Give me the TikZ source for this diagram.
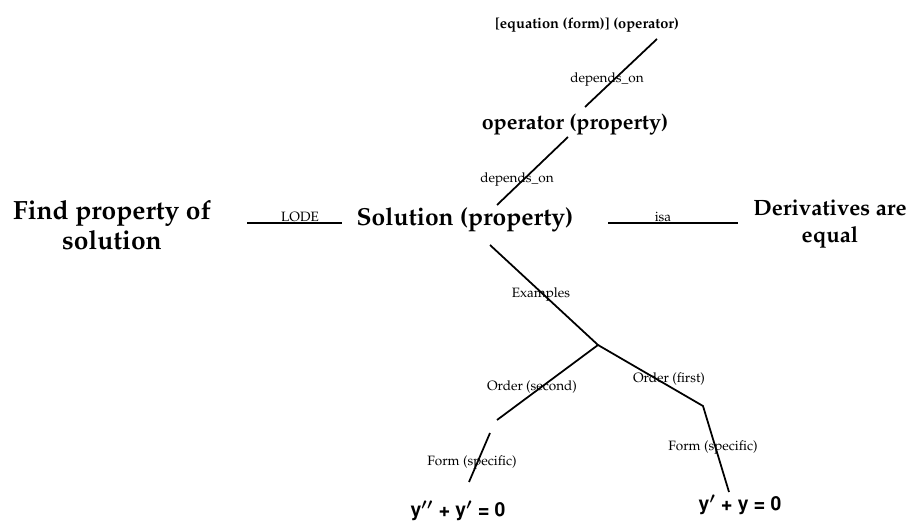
\documentclass[tikz,border=0pt]{standalone}
\usepackage[T1]{fontenc}
\usepackage{mathpazo}
\usepackage{helvet}
\usetikzlibrary{positioning}

\begin{document}
\begin{tikzpicture}[x=0.2mm,y=-0.2mm,
    concept/.style={font=\bfseries\fontsize{14}{16}\selectfont, align=center, inner sep=1pt},
    eqn/.style={font=\sffamily\bfseries\boldmath\fontsize{11}{13}\selectfont, inner sep=1pt},
    rel/.style={font=\fontsize{7.7}{9}\selectfont, inner sep=1pt},
    link/.style={line width=1pt}]
    \useasboundingbox (0,0) rectangle (910,525);
    % concepts
    \node[concept, font=\bfseries\fontsize{8.3}{10}\selectfont] (eqop) at (587,25) {[equation (form)] (operator)};
    \node[concept, font=\bfseries\fontsize{12.2}{14}\selectfont] (oper) at (575,125) {operator (property)};
    \node[concept] (sol) at (465,220) {Solution (property)};
    \node[concept, font=\bfseries\fontsize{15}{17}\selectfont] (find) at (112,225) {Find property of\\solution};
    \node[concept, font=\bfseries\fontsize{12.6}{15.3}\selectfont] (deriv) at (830,224) {Derivatives are\\equal};
    \node[eqn] (eqsec) at (458,511) {y$^{\prime\prime}$ + y$^{\prime}$ = 0};
    \node[eqn] (eqfirst) at (740,505) {y$^{\prime}$ + y = 0};
    % line ends
    \coordinate (a1) at (657,39);  \coordinate (a2) at (585,107);
    \coordinate (b1) at (568,137); \coordinate (b2) at (497,205);
    \coordinate (c1) at (247,223); \coordinate (c2) at (342,223);
    \coordinate (d1) at (608,223); \coordinate (d2) at (738,223);
    \coordinate (e1) at (490,245); \coordinate (fork) at (598,345);
    \coordinate (f1) at (497,420);
    \coordinate (g1) at (703,406); \coordinate (g2) at (729,492);
    \coordinate (h1) at (490,433); \coordinate (h2) at (469,482);
    % links
    \draw[link] (a1) -- (a2);
    \draw[link] (b1) -- (b2);
    \draw[link] (c1) -- (c2);
    \draw[link] (d1) -- (d2);
    \draw[link] (e1) -- (fork) -- (f1);
    \draw[link] (fork) -- (g1) -- (g2);
    \draw[link] (h1) -- (h2);
    % relation labels
    \node[rel] (dep1) at (607,80) {depends\_on};
    \node[rel] (dep2) at (517,180) {depends\_on};
    \node[rel] (lode) at (300,217) {LODE};
    \node[rel] (isa) at (663,217) {isa};
    \node[rel] (ex) at (541,295) {Examples};
    \node[rel] (ordsec) at (532,387) {Order (second)};
    \node[rel] (ordfirst) at (669,379) {Order (first)};
    \node[rel] (formfirst) at (713,448) {Form (specific)};
    \node[rel] (formsec) at (472,463) {Form (specific)};
\end{tikzpicture}
\end{document}
